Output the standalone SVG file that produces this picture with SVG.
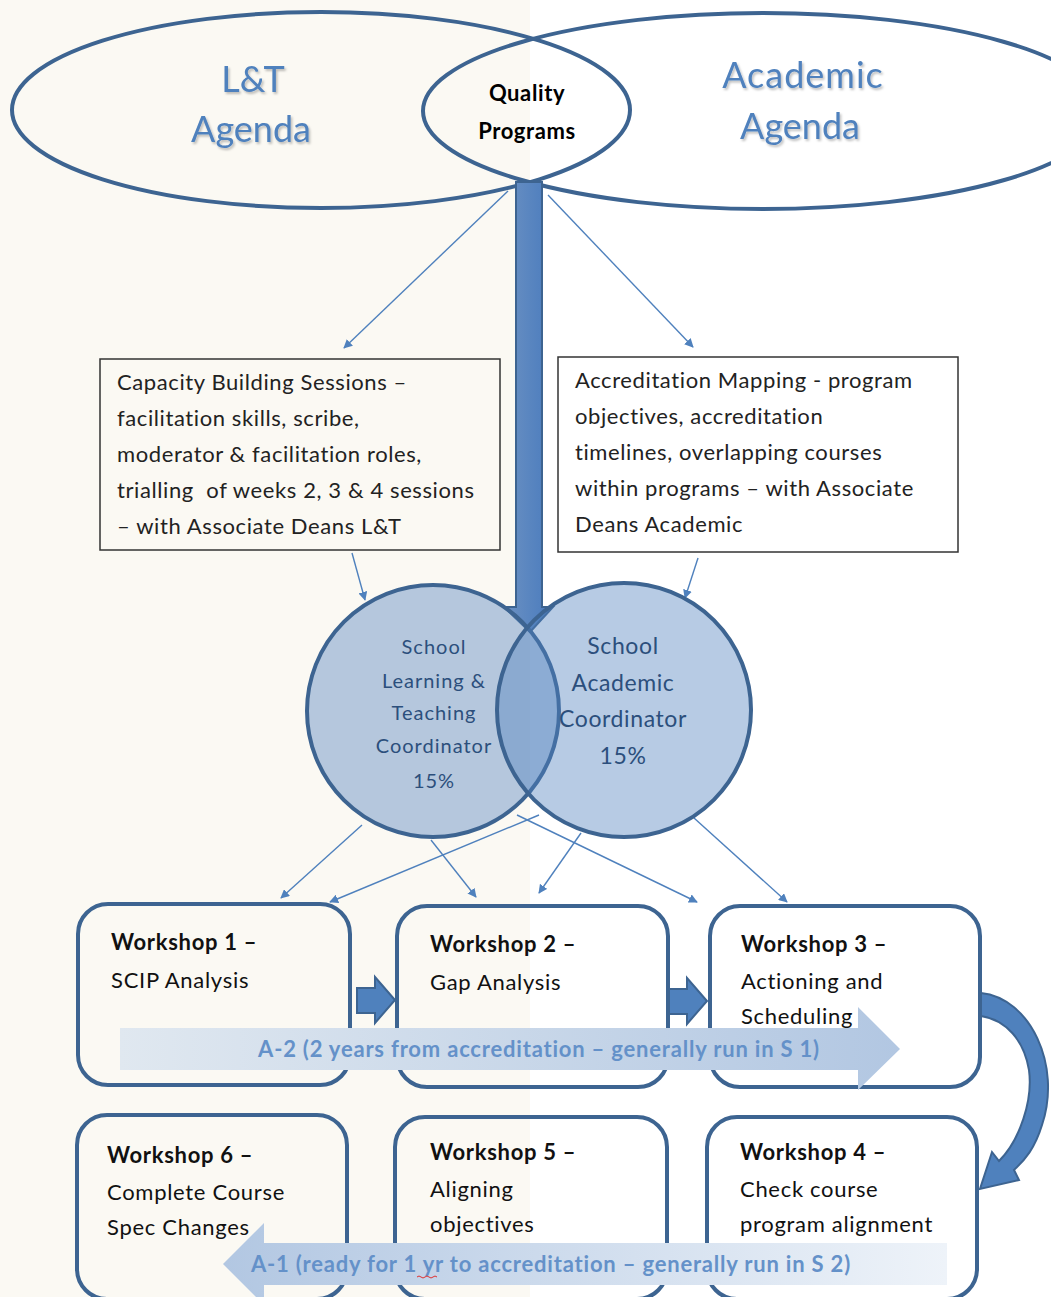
<svg xmlns="http://www.w3.org/2000/svg" width="1051" height="1297" viewBox="0 0 1051 1297">
<defs>
<style>
.ell{fill:none;stroke:#3d6491;stroke-width:4}
.box{fill:none;stroke:#333;stroke-width:1.5}
.ws{fill:none;stroke:#3d6491;stroke-width:4}
.circ{fill:#4f81bd;fill-opacity:0.41;stroke:#3d6491;stroke-width:4}
.con{stroke:#4f81bd;stroke-width:1.4;fill:none;marker-end:url(#ah)}
.head{font-family:Lato,"Liberation Sans",sans-serif;font-size:36px;fill:#4f81bd;text-anchor:middle;filter:url(#sh)}
.qp{font-family:Lato,"Liberation Sans",sans-serif;font-weight:bold;font-size:22px;letter-spacing:0.6px;fill:#000;text-anchor:middle}
.bt{font-family:Lato,"Liberation Sans",sans-serif;font-size:22px;letter-spacing:0.6px;fill:#222}
.wt{font-family:Lato,"Liberation Sans",sans-serif;font-size:22px;letter-spacing:0.7px;fill:#111}
.wb{font-weight:bold}
.ct{font-family:Lato,"Liberation Sans",sans-serif;fill:#2c4f7c;text-anchor:middle}
.at{font-family:Lato,"Liberation Sans",sans-serif;font-weight:bold;font-size:22px;letter-spacing:0.8px;fill:#6491c9}
.blk{fill:#4f81bd;stroke:#3d6491;stroke-width:2}
</style>
<marker id="ah" viewBox="0 0 10 10" refX="9" refY="5" markerWidth="9" markerHeight="9" markerUnits="userSpaceOnUse" orient="auto">
<path d="M0,0 L10,5 L0,10 z" fill="#4f81bd"/>
</marker>
<filter id="sh" x="-10%" y="-10%" width="130%" height="140%">
<feDropShadow dx="1.5" dy="2" stdDeviation="1.2" flood-color="#000" flood-opacity="0.25"/>
</filter>
<linearGradient id="shaft" x1="0" x2="1" y1="0" y2="0">
<stop offset="0" stop-color="#6d91c2"/>
<stop offset="0.5" stop-color="#5a86c0"/>
<stop offset="1" stop-color="#4a7bbd"/>
</linearGradient>
<linearGradient id="gA2" gradientUnits="userSpaceOnUse" x1="120" y1="0" x2="900" y2="0">
<stop offset="0" stop-color="#e0e8f0"/>
<stop offset="1" stop-color="#b2c7e2"/>
</linearGradient>
<linearGradient id="gA1" gradientUnits="userSpaceOnUse" x1="223" y1="0" x2="947" y2="0">
<stop offset="0" stop-color="#b2c7e2"/>
<stop offset="1" stop-color="#eef3f9"/>
</linearGradient>
</defs>

<rect x="0" y="0" width="1051" height="1297" fill="#fff"/>
<rect x="0" y="0" width="530" height="1297" fill="#fbf9f3"/>

<g id="lt-agenda">
<ellipse class="ell" cx="321" cy="110" rx="309" ry="98"/>
<text class="head" x="253" y="92">L&amp;T</text>
<text class="head" x="251" y="142">Agenda</text>
</g>
<g id="academic-agenda">
<ellipse class="ell" cx="763" cy="111" rx="340" ry="98"/>
<text class="head" x="803" y="88" letter-spacing="1">Academic</text>
<text class="head" x="800" y="139">Agenda</text>
</g>
<g id="quality-programs">
<text class="qp" x="527" y="101">Quality</text>
<text class="qp" x="527" y="139">Programs</text>
</g>

<g id="capacity-building">
<rect class="box" x="100" y="359" width="400" height="191"/>
<text class="bt" x="117" y="390">Capacity Building Sessions –</text>
<text class="bt" x="117" y="426">facilitation skills, scribe,</text>
<text class="bt" x="117" y="462">moderator &amp; facilitation roles,</text>
<text class="bt" x="117" y="498" xml:space="preserve">trialling  of weeks 2, 3 &amp; 4 sessions</text>
<text class="bt" x="117" y="534">– with Associate Deans L&amp;T</text>
</g>
<g id="accreditation-mapping">
<rect class="box" x="558" y="357" width="400" height="195"/>
<text class="bt" x="575" y="388">Accreditation Mapping - program</text>
<text class="bt" x="575" y="424">objectives, accreditation</text>
<text class="bt" x="575" y="460">timelines, overlapping courses</text>
<text class="bt" x="575" y="496">within programs – with Associate</text>
<text class="bt" x="575" y="532">Deans Academic</text>
</g>

<g id="connectors">
<path d="M516,182 L542,182 L542,607 L553,607 L530,632 L504,607 L516,607 Z" fill="url(#shaft)" stroke="#3d6491" stroke-width="2"/>
<line class="con" x1="508" y1="191" x2="344" y2="348"/>
<line class="con" x1="548" y1="195" x2="693" y2="347"/>
<line class="con" x1="352" y1="553" x2="365" y2="600"/>
<line class="con" x1="698" y1="558" x2="685" y2="598"/>
<line class="con" x1="362" y1="825" x2="281" y2="898"/>
<line class="con" x1="539" y1="815" x2="330" y2="902"/>
<line class="con" x1="431" y1="840" x2="476" y2="897"/>
<line class="con" x1="581" y1="833" x2="539" y2="893"/>
<line class="con" x1="517" y1="815" x2="697" y2="902"/>
<line class="con" x1="694" y1="818" x2="787" y2="902"/>
<path class="blk" d="M357,988 L375,988 L375,977 L395,1000 L375,1023 L375,1013 L357,1013 Z"/>
<path class="blk" d="M668,989 L687,989 L687,978 L707,1001 L687,1024 L687,1014 L668,1014 Z"/>
<path class="blk" d="M981,993 C1030,998 1062,1065 1042,1125 C1035,1148 1025,1160 1014,1170 L1019,1180 L980,1189 L992,1152 L999,1161 C1020,1140 1033,1100 1029,1070 C1024,1040 1006,1020 981,1016 Z"/>
</g>

<g id="school-lt-coordinator">
<circle class="circ" cx="433" cy="711" r="126"/>
<text class="ct" font-size="20" letter-spacing="1" x="434" y="654">School</text>
<text class="ct" font-size="20" letter-spacing="1" x="434" y="688">Learning &amp;</text>
<text class="ct" font-size="20" letter-spacing="1" x="434" y="720">Teaching</text>
<text class="ct" font-size="20" letter-spacing="1" x="434" y="753">Coordinator</text>
<text class="ct" font-size="20" letter-spacing="1" x="434" y="788">15%</text>
</g>
<g id="school-academic-coordinator">
<circle class="circ" cx="624" cy="710" r="127"/>
<text class="ct" font-size="23" letter-spacing="0.6" x="623" y="654">School</text>
<text class="ct" font-size="23" letter-spacing="0.6" x="623" y="691">Academic</text>
<text class="ct" font-size="23" letter-spacing="0.6" x="623" y="727">Coordinator</text>
<text class="ct" font-size="23" letter-spacing="0.6" x="623" y="764">15%</text>
</g>

<g id="workshop-1">
<rect class="ws" x="78" y="904" width="272" height="181" rx="30"/>
<text class="wt wb" x="111" y="950">Workshop 1 –</text>
<text class="wt" x="111" y="988">SCIP Analysis</text>
</g>
<g id="workshop-2">
<rect class="ws" x="397" y="906" width="271" height="181" rx="30"/>
<text class="wt wb" x="430" y="952">Workshop 2 –</text>
<text class="wt" x="430" y="990">Gap Analysis</text>
</g>
<g id="workshop-3">
<rect class="ws" x="710" y="906" width="270" height="181" rx="30"/>
<text class="wt wb" x="741" y="952">Workshop 3 –</text>
<text class="wt" x="741" y="989">Actioning and</text>
<text class="wt" x="741" y="1024">Scheduling</text>
</g>
<g id="workshop-6">
<rect class="ws" x="77" y="1115" width="270" height="184" rx="30"/>
<text class="wt wb" x="107" y="1163">Workshop 6 –</text>
<text class="wt" x="107" y="1200">Complete Course</text>
<text class="wt" x="107" y="1235">Spec Changes</text>
</g>
<g id="workshop-5">
<rect class="ws" x="395" y="1117" width="272" height="182" rx="30"/>
<text class="wt wb" x="430" y="1160">Workshop 5 –</text>
<text class="wt" x="430" y="1197">Aligning</text>
<text class="wt" x="430" y="1232">objectives</text>
</g>
<g id="workshop-4">
<rect class="ws" x="707" y="1117" width="270" height="182" rx="30"/>
<text class="wt wb" x="740" y="1160">Workshop 4 –</text>
<text class="wt" x="740" y="1197">Check course</text>
<text class="wt" x="740" y="1232">program alignment</text>
</g>

<g id="a2-arrow">
<path d="M120,1028 L858,1028 L858,1007 L900,1049 L858,1090 L858,1070 L120,1070 Z" fill="url(#gA2)"/>
<text class="at" x="539" y="1057" text-anchor="middle">A-2 (2 years from accreditation – generally run in S 1)</text>
</g>
<g id="a1-arrow">
<path d="M947,1243 L264,1243 L264,1223 L223,1264 L264,1305 L264,1285 L947,1285 Z" fill="url(#gA1)"/>
<text class="at" x="551" y="1272" text-anchor="middle">A-1 (ready for 1 yr to accreditation – generally run in S 2)</text>
<path d="M417,1277 q2,-2 4,0 t4,0 t4,0 t4,0 t4,0" fill="none" stroke="#e03030" stroke-width="1"/>
</g>
</svg>
